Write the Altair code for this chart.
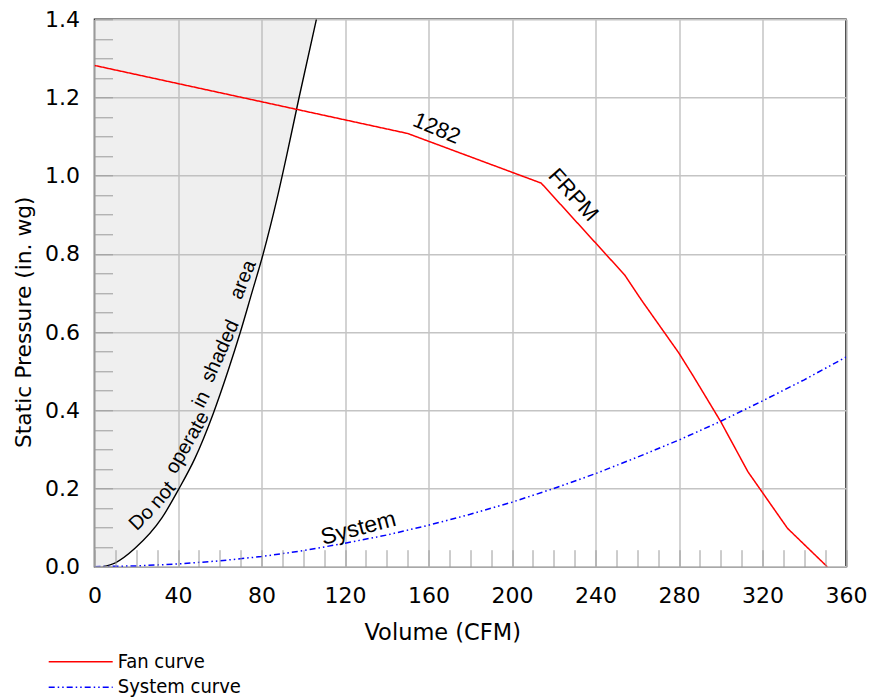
import altair as alt
import pandas as pd

# ---- data ----
fan_cfm = [0, 150, 214, 254, 262, 280, 287, 300, 313, 332, 351]
fan_p = [1.282, 1.108, 0.981, 0.746, 0.682, 0.546, 0.486, 0.371, 0.243, 0.098, 0.0]

sys_cfm = [0, 20, 40, 60, 80, 100, 120, 140, 160, 180, 200, 220, 240, 260, 280, 300, 320, 340, 360]
sys_p = [0.0, 0.002, 0.007, 0.015, 0.026, 0.041, 0.060, 0.081, 0.106, 0.134, 0.165,
         0.200, 0.238, 0.280, 0.324, 0.372, 0.424, 0.478, 0.536]

lim_cfm = [4, 10, 19.4, 32.2, 40.1, 48.1, 56.9, 64.1, 69.7, 75.3, 80.9, 87.3, 92, 98, 106.3]
lim_p = [0.0, 0.010, 0.047, 0.124, 0.196, 0.277, 0.392, 0.503, 0.597, 0.699, 0.802, 0.938, 1.05, 1.2, 1.4]

x_ticks = [0, 40, 80, 120, 160, 200, 240, 280, 320, 360]
y_ticks = [0.0, 0.2, 0.4, 0.6, 0.8, 1.0, 1.2, 1.4]
x_minor = list(range(0, 361, 10))
y_minor = [0.0, 0.05, 0.1, 0.15, 0.2, 0.25, 0.3, 0.35, 0.4, 0.45, 0.5, 0.55, 0.6, 0.65, 0.7,
           0.75, 0.8, 0.85, 0.9, 0.95, 1.0, 1.05, 1.1, 1.15, 1.2, 1.25, 1.3, 1.35, 1.4]

series_names = ["Fan curve", "System curve"]

ann_text = ["1282", "FRPM", "System"]
ann_cfm = [163.9, 229.4, 126.4]
ann_p = [1.121, 0.951, 0.098]
ann_angle = [23, 48, 345]
ann_size = [22, 22, 23]

warn_text = ["Do", "not", "operate", "in", "shaded", "area"]
warn_cfm = [24.2, 34.6, 46.6, 53.4, 62.5, 73.4]
warn_p = [0.115, 0.175, 0.311, 0.422, 0.546, 0.729]
warn_angle = [315, 310, 300, 297, 294, 292]

# ---- tables ----
lines_df = pd.concat([
    pd.DataFrame({"cfm": fan_cfm, "p": fan_p, "series": series_names[0], "order": range(len(fan_cfm))}),
    pd.DataFrame({"cfm": sys_cfm, "p": sys_p, "series": series_names[1], "order": range(len(sys_cfm))}),
])
lim_df = pd.DataFrame({"cfm": lim_cfm, "p": lim_p})
area_df = pd.DataFrame({"cfm": [0] + lim_cfm, "p": [0.0] + lim_p})
ann_df = pd.DataFrame({"cfm": ann_cfm, "p": ann_p, "t": ann_text, "a": ann_angle, "s": ann_size})
warn_df = pd.DataFrame({"cfm": warn_cfm, "p": warn_p, "t": warn_text, "a": warn_angle})

W, H = 751.5, 547.4
AX_FONT = "DejaVu Sans"
TXT_FONT = "Liberation Sans"

xs = alt.Scale(domain=[0, 360], nice=False, zero=False)
ys = alt.Scale(domain=[0, 1.4], nice=False, zero=False)

main_x_axis = alt.Axis(
    values=x_ticks, grid=True, gridColor="#c4c4c4", gridWidth=1.5,
    ticks=False, tickSize=0, domain=False, labelFlush=False, labelOverlap=False,
    labelFont=AX_FONT, labelFontSize=22, labelColor="black", labelPadding=19,
    title="Volume (CFM)", titleFont=AX_FONT, titleFontSize=22.5, titleFontWeight="normal",
    titleColor="black", titleX=347.7, titleY=72.6, titleBaseline="alphabetic", titleAlign="center",
)
main_y_axis = alt.Axis(
    values=y_ticks, format=".1f", grid=True, gridColor="#c4c4c4", gridWidth=1.5,
    ticks=False, tickSize=0, domain=False, labelFlush=False, labelOverlap=False,
    labelFont=AX_FONT, labelFontSize=22, labelColor="black", labelPadding=15,
    title="Static Pressure (in. wg)", titleFont=AX_FONT, titleFontSize=21.8, titleFontWeight="normal",
    titleColor="black", titleAngle=270, titleX=-71, titleY=302.4, titleBaseline="middle",
    titleAlign="center",
)
minor_x_axis = alt.Axis(
    orient="top", offset=-H, values=x_minor, tickSize=17, tickColor="#9a9a9a", tickWidth=1,
    labels=False, domain=False, grid=False, title=None, zindex=1,
)
minor_y_axis = alt.Axis(
    orient="right", offset=-W, values=y_minor, tickSize=18, tickColor="#9a9a9a", tickWidth=1,
    labels=False, domain=False, grid=False, title=None, zindex=1,
)

area = alt.Chart(area_df).mark_area(
    color="#b4b4b4", opacity=0.22, interpolate="monotone", clip=True
).encode(
    x=alt.X("cfm:Q", scale=xs, axis=main_x_axis),
    y=alt.Y("p:Q", scale=ys, axis=main_y_axis),
    y2=alt.datum(1.4),
)

boundary = alt.Chart(lim_df).mark_line(
    color="black", strokeWidth=1.4, interpolate="monotone", clip=True
).encode(
    x=alt.X("cfm:Q", scale=xs, axis=None),
    y=alt.Y("p:Q", scale=ys, axis=None),
)

legend_spec = alt.Legend(
    title=None, orient="none", legendX=-23.8, legendY=632.4, direction="vertical",
    symbolType="M-4,0L4,0", symbolSize=256, symbolStrokeWidth=1.5,
    labelFont="DejaVu Sans Condensed", labelFontSize=20, labelColor="black",
    labelLimit=400, rowPadding=5.6, labelOffset=27, padding=0,
)

lines = alt.Chart(lines_df).mark_line(strokeWidth=1.5, clip=True).encode(
    x=alt.X("cfm:Q", scale=xs, axis=minor_x_axis),
    y=alt.Y("p:Q", scale=ys, axis=minor_y_axis),
    color=alt.Color("series:N", scale=alt.Scale(domain=series_names, range=["#ff0000", "#0000ff"]),
                    legend=legend_spec),
    strokeDash=alt.StrokeDash("series:N",
                              scale=alt.Scale(domain=series_names, range=[[1, 0], [6, 3, 1.5, 3, 1.5, 3]]),
                              legend=legend_spec),
    order="order:Q",
)

ann = alt.Chart(ann_df).mark_text(font=TXT_FONT, color="black").encode(
    x=alt.X("cfm:Q", scale=xs, axis=None),
    y=alt.Y("p:Q", scale=ys, axis=None),
    text="t:N",
    angle=alt.Angle("a:Q", scale=None),
    size=alt.Size("s:Q", scale=None, legend=None),
)

warn = alt.Chart(warn_df).mark_text(font=TXT_FONT, fontSize=20, color="black", dy=-5).encode(
    x=alt.X("cfm:Q", scale=xs, axis=None),
    y=alt.Y("p:Q", scale=ys, axis=None),
    text="t:N",
    angle=alt.Angle("a:Q", scale=None),
)

chart = alt.layer(area, boundary, lines, ann, warn).resolve_axis(
    x="independent", y="independent"
).properties(
    width=W, height=H,
    padding={"left": 86.5, "top": 11.3, "right": 28, "bottom": 133.3},
    autosize=alt.AutoSizeParams(type="none"),
    background="white",
).configure_view(stroke="#1a1a1a", strokeWidth=1.5)

chart.save("out.html", embed_options={"renderer": "svg", "actions": False})
